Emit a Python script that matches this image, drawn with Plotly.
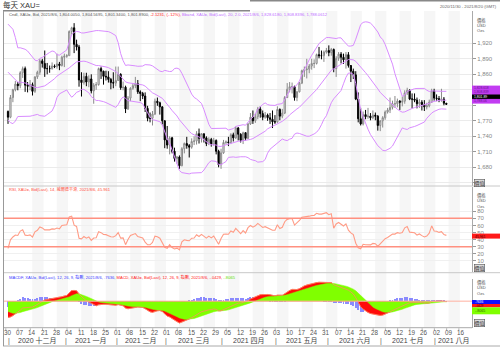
import numpy as np
import pandas as pd
import plotly.graph_objects as go

W, H = 500, 351

# ---------------- data (XAU= daily) ----------------
# closes before the visible window (Oct 1 - Nov 27 2020), used only for indicator warm-up
warmup_closes = [1906, 1900, 1913, 1878, 1887, 1893, 1930, 1922, 1890, 1902, 1908,
                 1900, 1905, 1907, 1924, 1904, 1902, 1902, 1908, 1878, 1868, 1879,
                 1894, 1909, 1904, 1949, 1951, 1862, 1877, 1866, 1874, 1888, 1888,
                 1880, 1872, 1862, 1871, 1837, 1807, 1811, 1811, 1788]

opens = [1788, 1777, 1815, 1830, 1841, 1838, 1863, 1871, 1839, 1837,
         1840, 1827, 1855, 1864, 1886, 1881, 1871, 1871, 1871, 1876,
         1875, 1880, 1877, 1893, 1895, 1896, 1943, 1950, 1918, 1913,
         1849, 1844, 1856, 1845, 1851, 1828, 1839, 1840, 1871, 1866,
         1856, 1855, 1850, 1844, 1843, 1848, 1860, 1834, 1835, 1793,
         1814, 1833, 1838, 1842, 1826, 1823, 1818, 1794, 1775, 1775,
         1783, 1808, 1805, 1797, 1770, 1733, 1723, 1737, 1711, 1697,
         1700, 1683, 1716, 1726, 1722, 1719, 1730, 1731, 1745, 1736,
         1745, 1737, 1726, 1734, 1725, 1732, 1711, 1685, 1708, 1728,
         1729, 1728, 1743, 1737, 1756, 1744, 1732, 1747, 1736, 1764,
         1777, 1770, 1778, 1793, 1784, 1777, 1781, 1776, 1773, 1768,
         1768, 1792, 1779, 1785, 1815, 1831, 1836, 1836, 1815, 1826,
         1843, 1867, 1869, 1870, 1876, 1881, 1881, 1898, 1896, 1896,
         1903, 1906, 1902, 1908, 1871, 1891, 1899, 1893, 1888, 1898,
         1877, 1866, 1859, 1812, 1774, 1764, 1782, 1778, 1779, 1776,
         1781, 1779, 1761, 1770, 1776, 1787, 1791, 1796, 1803, 1803,
         1808, 1806, 1808, 1824, 1829, 1812, 1812, 1810, 1803, 1806,
         1801, 1797, 1799, 1806, 1828, 1814, 1813, 1810, 1812, 1804.005]

highs = [1790, 1820, 1832, 1847, 1845, 1866, 1875, 1875, 1845, 1849,
         1844, 1856, 1867, 1890, 1890, 1906, 1882, 1877, 1883, 1879,
         1900, 1884, 1896, 1900, 1899, 1945, 1952, 1959, 1927, 1917,
         1864, 1863, 1863, 1858, 1860, 1843, 1845, 1873, 1875, 1867,
         1867, 1866, 1853, 1864, 1875, 1875, 1862, 1846, 1838, 1818,
         1835, 1843, 1855, 1849, 1829, 1826, 1825, 1799, 1786, 1789,
         1813, 1815, 1807, 1798, 1771, 1760, 1740, 1739, 1718, 1702,
         1703, 1719, 1728, 1739, 1725, 1736, 1740, 1750, 1755, 1746,
         1745, 1740, 1738, 1737, 1737, 1734, 1714, 1716, 1733, 1732,
         1739, 1746, 1747, 1759, 1758, 1746, 1749, 1748, 1766, 1785,
         1790, 1784, 1797, 1798, 1790, 1787, 1784, 1785, 1790, 1781,
         1798, 1794, 1793, 1818, 1843, 1845, 1844, 1838, 1828, 1845,
         1869, 1875, 1890, 1880, 1890, 1889, 1900, 1913, 1906, 1906,
         1911, 1916, 1911, 1910, 1895, 1903, 1903, 1900, 1903, 1903,
         1878, 1871, 1866, 1825, 1795, 1788, 1791, 1795, 1785, 1790,
         1786, 1781, 1771, 1779, 1790, 1795, 1815, 1809, 1818, 1813,
         1810, 1817, 1829, 1834, 1831, 1823, 1823, 1815, 1812, 1810,
         1810, 1805, 1811, 1832, 1832, 1821, 1818, 1832, 1816, 1804.5695]

lows = [1764, 1775, 1806, 1827, 1829, 1833, 1853, 1826, 1825, 1829,
        1819, 1824, 1851, 1859, 1873, 1855, 1860, 1863, 1869, 1872,
        1871, 1868, 1875, 1874, 1892, 1896, 1937, 1901, 1906, 1836,
        1817, 1840, 1837, 1835, 1823, 1803, 1830, 1838, 1851, 1840,
        1848, 1844, 1831, 1833, 1837, 1847, 1830, 1829, 1785, 1791,
        1808, 1830, 1833, 1822, 1808, 1812, 1787, 1769, 1767, 1761,
        1781, 1799, 1782, 1763, 1717, 1716, 1705, 1707, 1691, 1687,
        1677, 1682, 1707, 1716, 1699, 1716, 1723, 1724, 1726, 1728,
        1728, 1721, 1723, 1720, 1722, 1705, 1680, 1677, 1706, 1724,
        1721, 1725, 1730, 1735, 1732, 1728, 1725, 1732, 1735, 1762,
        1764, 1766, 1773, 1776, 1771, 1774, 1770, 1764, 1756, 1764,
        1766, 1771, 1775, 1783, 1814, 1825, 1823, 1809, 1808, 1825,
        1841, 1855, 1852, 1862, 1869, 1872, 1879, 1891, 1889, 1884,
        1900, 1895, 1896, 1864, 1855, 1886, 1881, 1880, 1871, 1873,
        1845, 1851, 1810, 1767, 1761, 1761, 1773, 1774, 1771, 1773,
        1771, 1751, 1750, 1757, 1772, 1784, 1785, 1792, 1795, 1796,
        1791, 1798, 1803, 1820, 1810, 1794, 1806, 1794, 1795, 1790,
        1789, 1792, 1796, 1805, 1809, 1808, 1806, 1807, 1800, 1801.34]

closes = [1777, 1815, 1830, 1841, 1838, 1863, 1871, 1839, 1837, 1840,
          1827, 1855, 1864, 1886, 1881, 1871, 1871, 1871, 1876, 1875,
          1880, 1877, 1893, 1895, 1896, 1943, 1950, 1918, 1913, 1849,
          1844, 1856, 1845, 1851, 1828, 1839, 1840, 1871, 1866, 1856,
          1855, 1850, 1844, 1843, 1848, 1860, 1834, 1835, 1793, 1814,
          1833, 1838, 1842, 1826, 1823, 1818, 1794, 1775, 1775, 1783,
          1808, 1805, 1797, 1770, 1733, 1723, 1737, 1711, 1697, 1700,
          1683, 1716, 1726, 1722, 1719, 1730, 1731, 1745, 1736, 1745,
          1737, 1726, 1734, 1725, 1732, 1711, 1685, 1708, 1728, 1729,
          1728, 1743, 1737, 1756, 1744, 1732, 1747, 1736, 1764, 1777,
          1770, 1778, 1793, 1784, 1777, 1781, 1776, 1773, 1768, 1768,
          1792, 1779, 1785, 1815, 1831, 1836, 1836, 1815, 1826, 1843,
          1867, 1869, 1870, 1876, 1881, 1881, 1898, 1896, 1896, 1903,
          1906, 1902, 1908, 1871, 1891, 1899, 1893, 1888, 1898, 1877,
          1866, 1859, 1812, 1774, 1764, 1782, 1778, 1779, 1776, 1781,
          1779, 1761, 1770, 1776, 1787, 1791, 1796, 1803, 1803, 1808,
          1806, 1808, 1824, 1829, 1812, 1812, 1810, 1803, 1806, 1801,
          1797, 1799, 1806, 1828, 1814, 1813, 1810, 1812, 1804, 1801.89]

price_ticks = [1650, 1680, 1710, 1740, 1770, 1800, 1830, 1860, 1890, 1920]
price_tick_text = ["", "1,680", "1,710", "1,740", "1,770", "", "", "1,860", "1,890", "1,920"]
rsi_ticks = [10, 20, 30, 40, 50, 60, 70, 80]
month_names = {12: "十二月", 1: "一月", 2: "二月", 3: "三月", 4: "四月", 5: "五月", 6: "六月", 7: "七月", 8: "八月"}

main_legend = ('<span style="color:#555">Cndl, XAU=, Bid, 2021/8/6, 1,804.0050, 1,804.5695, 1,801.3400, 1,801.8900, </span>'
               '<span style="color:#ff2020">-2.1231, (-.12%), </span>'
               '<span style="color:#c070ff">Bband, XAU=, Bid(Last), 20, 2.0, 2021/8/6, 1,828.6180, 1,808.8396, 1,788.0612</span>')
rsi_legend = '<span style="color:#ff5040">RSI, XAU=, Bid(Last), 14, 威爾德平滑, 2021/8/6, 45.961</span>'
macd_legend = ('<span style="color:#4040ff">MACDF, XAU=, Bid(Last), 12, 26, 9, 指數, 2021/8/6, .7636, </span>'
               '<span style="color:#ff2020">MACD, XAU=, Bid(Last), 12, 26, 9, 指數, 2021/8/6, -.0429, </span>'
               '<span style="color:#66dd00">-.8065</span>')

# ---------------- indicators ----------------
dates_all = pd.bdate_range("2020-11-30", "2021-08-20")
n = len(closes)
xi = np.arange(n)
nw = len(warmup_closes)
allc = pd.Series(warmup_closes + closes, dtype=float)

mid = allc.rolling(20).mean()
sd = allc.rolling(20).std(ddof=0)
upper = (mid + 2 * sd).values[nw:]
lower = (mid - 2 * sd).values[nw:]
middle = mid.values[nw:]

delta = allc.diff()
gain = delta.clip(lower=0)
loss = -delta.clip(upper=0)
ag = gain.ewm(alpha=1 / 14, adjust=False).mean()
al = loss.ewm(alpha=1 / 14, adjust=False).mean()
rsi = (100 - 100 / (1 + ag / al)).values[nw:]

ema12 = allc.ewm(span=12, adjust=False).mean()
ema26 = allc.ewm(span=26, adjust=False).mean()
macd_s = ema12 - ema26
sig_s = macd_s.ewm(span=9, adjust=False).mean()
macd = macd_s.values[nw:]
sig = sig_s.values[nw:]
hist = macd - sig

# ---------------- geometry helpers ----------------
def px(x):
    return x / W

def py(y):
    return 1 - y / H

X_L, X_R = 4, 472
BAR_PX = 2.449
X0 = 8.0
xrange_ = [(X_L - X0) / BAR_PX, (X_R - X0) / BAR_PX]

# main price panel
Y1_T, Y1_B = 11, 186
P_Y1920, PX_PER_USD = 43.3, 0.5167
main_range = [1920 - (Y1_B - P_Y1920) / PX_PER_USD, 1920 + (P_Y1920 - Y1_T) / PX_PER_USD]
# RSI panel
Y2_T, Y2_B = 187, 272
R0_Y, PX_PER_RSI = 268.0, 0.71
rsi_range = [(R0_Y - Y2_B) / PX_PER_RSI, (R0_Y - Y2_T) / PX_PER_RSI]
# MACD panel: data max drawn near y=282, data min near y=323
Y3_T, Y3_B = 279, 327.7
MAX_Y, MIN_Y = 282.0, 323.0
mx = max(np.max(macd), np.max(sig))
mn = min(np.min(macd), np.min(sig))
upp = (mx - mn) / (MIN_Y - MAX_Y)
macd_range = [mn - (Y3_B - MIN_Y) * upp, mx + (MAX_Y - Y3_T) * upp]

FONT = "Liberation Sans, Noto Sans CJK TC, sans-serif"

fig = go.Figure()

fig.add_trace(go.Candlestick(
    x=xi, open=opens, high=highs, low=lows, close=closes,
    increasing=dict(line=dict(color="#8a8a8a", width=1), fillcolor="#ffffff"),
    decreasing=dict(line=dict(color="#000000", width=1), fillcolor="#000000"),
    whiskerwidth=0, xaxis="x", yaxis="y", showlegend=False, hoverinfo="skip"))

for band in (upper, middle, lower):
    fig.add_trace(go.Scatter(x=xi, y=band, mode="lines", line=dict(color="#d98cff", width=1),
                             xaxis="x", yaxis="y", showlegend=False, hoverinfo="skip"))

fig.add_trace(go.Scatter(x=xi, y=rsi, mode="lines", line=dict(color="#ff9c86", width=1.1),
                         xaxis="x", yaxis="y2", showlegend=False, hoverinfo="skip"))

fig.add_trace(go.Scatter(x=xi, y=macd, mode="lines", fill="tozeroy", fillcolor="#ff0a0a",
                         line=dict(color="#ff0a0a", width=0.5), xaxis="x", yaxis="y3",
                         showlegend=False, hoverinfo="skip"))
fig.add_trace(go.Scatter(x=xi, y=sig, mode="lines", fill="tozeroy", fillcolor="#80ff00",
                         line=dict(color="#80ff00", width=0.5), xaxis="x", yaxis="y3",
                         showlegend=False, hoverinfo="skip"))
fig.add_trace(go.Bar(x=xi, y=hist, width=0.4, marker=dict(color="#7878ff", line=dict(width=0)),
                     opacity=0.85, xaxis="x", yaxis="y3", showlegend=False, hoverinfo="skip"))
fig.add_trace(go.Scatter(x=xi, y=macd, mode="lines", line=dict(color="#ff8c66", width=0.8),
                         xaxis="x", yaxis="y3", showlegend=False, hoverinfo="skip"))

shapes = []
annotations = []

# alternating weekly stripes
mondays = list(range(0, len(dates_all), 5))
for k, m in enumerate(mondays):
    if k >= 2 and k % 2 == 0:
        shapes.append(dict(type="rect", xref="x", yref="paper", x0=m - 0.1, x1=min(m + 4.5, xrange_[1]),
                           y0=py(Y3_B), y1=py(Y1_T), fillcolor="#f6f6f6", line=dict(width=0), layer="below"))

# RSI 70 / 30 lines and MACD zero line
for lvl in (70, 30):
    shapes.append(dict(type="line", xref="paper", yref="y2", x0=px(X_L), x1=px(X_R), y0=lvl, y1=lvl,
                       line=dict(color="#ff9080", width=1.5)))
shapes.append(dict(type="line", xref="paper", yref="y3", x0=px(X_L), x1=px(W), y0=0, y1=0,
                   line=dict(color="#ffb0a0", width=1)))

# frame / separator lines
def hline(y, x0, x1, color, w=1):
    shapes.append(dict(type="line", xref="paper", yref="paper", x0=px(x0), x1=px(x1), y0=py(y), y1=py(y),
                       line=dict(color=color, width=w)))

hline(10.7, 3, 250, "#888", 1.5)
hline(0.7, 250, 500, "#888", 1.5)
hline(186, 3, 500, "#c8c8c8")
hline(272.7, 3, 500, "#c8c8c8")
hline(327.7, 3, X_R, "#aaaaaa")
hline(346, 3, 500, "#aaaaaa")
shapes.append(dict(type="line", xref="paper", yref="paper", x0=px(3.5), x1=px(3.5), y0=py(346), y1=py(10.7),
                   line=dict(color="#999", width=1)))

# value boxes on the right axis
def rect(y0, y1, color, x0=X_R, x1=W):
    shapes.append(dict(type="rect", xref="paper", yref="paper", x0=px(x0), x1=px(x1), y0=py(y1), y1=py(y0),
                       fillcolor=color, line=dict(width=0)))

def label(x, y, text, size=4.5, color="#555", anchor="left", **kw):
    annotations.append(dict(xref="paper", yref="paper", x=px(x), y=py(y), text=text, showarrow=False,
                            xanchor=anchor, yanchor="middle", borderpad=kw.pop("borderpad", 0),
                            font=dict(family=FONT, size=size, color=color), **kw))

rect(85.6, 103.6, "#c23cf2")
rect(94.5, 98.9, "#000000")
label(473, 87.9, "1,828.618", 3.3, "#6a1690")
label(473, 92.3, "1,808.839", 3.3, "#6a1690")
label(473, 96.7, "1,801.89", 3.4, "#ffffff")
label(473, 101.1, "1,788.06", 3.3, "#6a1690")

rect(233.6, 238.6, "#ff1a1a")
label(474, 236.7, "45.961", 3.4, "#4a0000")

rect(300.0, 304.0, "#1010ff")
label(474, 302.0, ".7636", 3.3, "#ffffff")
rect(304.0, 307.3, "#ff1a1a")
label(474, 305.7, "-.0429", 2.9, "#500000")
rect(307.3, 314.3, "#80ff00")
label(474, 311.3, "-.8065", 3.6, "#336600")

for yy in (182.6, 267.7, 323.3):
    label(474, yy, "價值", 5, "#333", bgcolor="#dddddd", bordercolor="#555", borderwidth=0.6)

for y_top in (20.7, 195.9, 282.7):
    label(476, y_top, "價格", 4.3, "#555")
    label(476, y_top + 5.0, "USD", 4.1, "#555")
    label(476, y_top + 10.3, "Ozs", 4.1, "#555")

# header and legends
label(2, 4.8, "每天 XAU=", 7.5, "#333")
label(498, 6.7, "2020/11/30 - 2021/8/20 (GMT)", 4.2, "#666", anchor="right")
label(8, 14.6, main_legend, 4.1, "#555")
label(8, 189.4, rsi_legend, 4.1, "#ff5040")
label(8, 277.4, macd_legend, 4.1, "#555")

# date ticks
for m in mondays:
    annotations.append(dict(xref="x", yref="paper", x=m, y=py(332.6), text=dates_all[m].strftime("%d"),
                            showarrow=False, xanchor="center", yanchor="middle",
                            font=dict(family=FONT, size=6.3, color="#555")))
    shapes.append(dict(type="line", xref="x", yref="paper", x0=m - 0.9, x1=m - 0.9, y0=py(330.3), y1=py(328.3),
                       line=dict(color="#999", width=0.8)))

# month labels and separators
month_start = {}
for i, d in enumerate(dates_all):
    key = (d.year, d.month)
    if key not in month_start:
        month_start[key] = i
keys = list(month_start.keys())
for j, key in enumerate(keys):
    i0 = month_start[key]
    i1 = month_start[keys[j + 1]] if j + 1 < len(keys) else len(dates_all)
    sep = i0 + 0.5 if j == 0 else i0 - 0.5
    if key[1] != 11:
        annotations.append(dict(xref="x", yref="paper", x=sep, y=py(340.5), text="|", showarrow=False,
                                xanchor="center", yanchor="middle", font=dict(family=FONT, size=7, color="#555")))
    if key[1] == 11:
        continue
    center = (sep + i1 - 0.5) / 2
    annotations.append(dict(xref="x", yref="paper", x=center, y=py(340.5),
                            text=f"{key[0]} {month_names[key[1]]}", showarrow=False,
                            xanchor="center", yanchor="middle", font=dict(family=FONT, size=7, color="#444")))

axis_common = dict(side="right", anchor="x", ticks="outside", ticklen=3, tickcolor="#999",
                   tickfont=dict(family=FONT, size=6, color="#888"), showline=True, linecolor="#aaa",
                   linewidth=1, zeroline=False, fixedrange=True)

fig.update_layout(
    width=W, height=H, margin=dict(l=0, r=0, t=0, b=0), autosize=False,
    paper_bgcolor="white", plot_bgcolor="white", showlegend=False, bargap=0,
    xaxis=dict(domain=[px(X_L), px(X_R)], range=xrange_, anchor="y3", showticklabels=False,
               showgrid=False, zeroline=False, showline=False, ticks="", rangeslider=dict(visible=False),
               fixedrange=True),
    yaxis=dict(domain=[py(Y1_B), py(Y1_T)], range=main_range, tickvals=price_ticks, ticktext=price_tick_text,
               showgrid=True, gridcolor="#ebebeb", gridwidth=1, **axis_common),
    yaxis2=dict(domain=[py(Y2_B), py(Y2_T)], range=rsi_range, tickvals=rsi_ticks,
                showgrid=True, gridcolor="#f0f0f0", gridwidth=1, **axis_common),
    yaxis3=dict(domain=[py(Y3_B), py(Y3_T)], range=macd_range, showticklabels=False, ticks="",
                showgrid=False, side="right", anchor="x", showline=True, linecolor="#aaa",
                zeroline=False, fixedrange=True),
    shapes=shapes, annotations=annotations,
)

fig.write_html("out.html")
